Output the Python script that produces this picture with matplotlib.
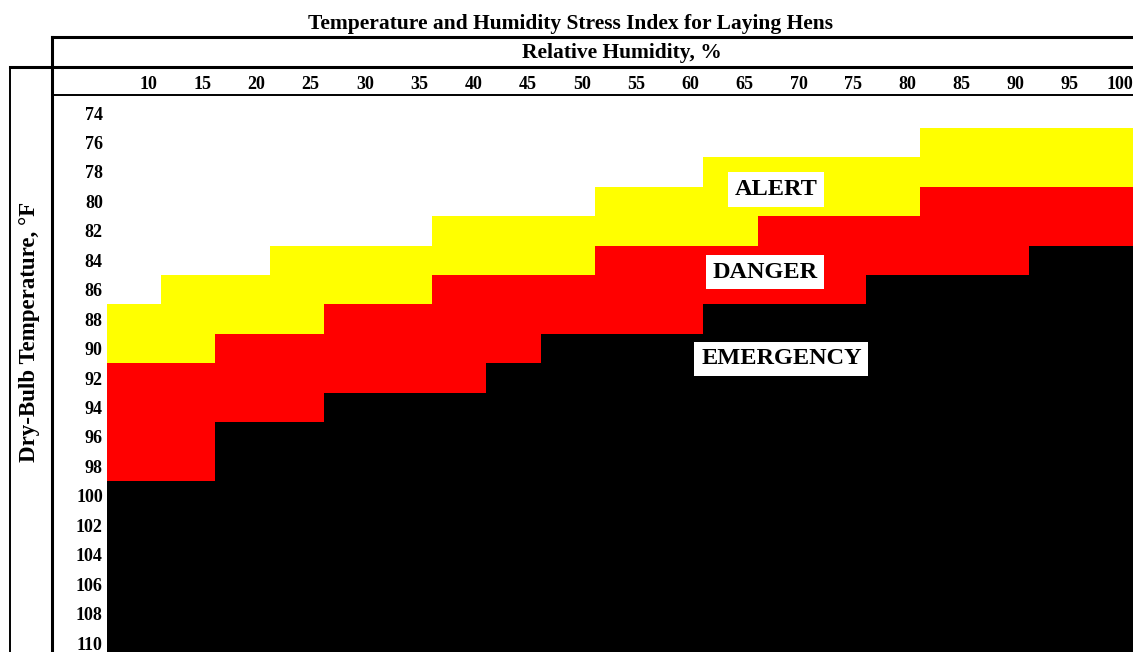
import matplotlib

matplotlib.use("Agg")
import matplotlib.pyplot as plt
from matplotlib.lines import Line2D
from matplotlib.transforms import ScaledTranslation
import numpy as np

# Relative humidity columns, %
humidity = [10, 15, 20, 25, 30, 35, 40, 45, 50, 55, 60, 65, 70, 75, 80, 85, 90, 95, 100]
# First dry-bulb temperature (°F) at which each stress zone begins, per column
alert_from = [88, 86, 86, 84, 84, 84, 82, 82, 82, 80, 80, 78, 78, 78, 78, 76, 76, 76, 76]
danger_from = [92, 92, 90, 90, 88, 88, 86, 86, 86, 84, 84, 84, 82, 82, 82, 80, 80, 80, 80]
emergency_from = [100, 100, 96, 96, 94, 94, 94, 92, 90, 90, 90, 88, 88, 88, 86, 86, 86, 84, 84]
# Dry-bulb temperature rows, °F
temps = list(range(74, 111, 2))

zone_names = ["ALERT", "DANGER", "EMERGENCY"]
zone_label_rh = [69.2, 68.2, 69.7]
zone_label_temp = [79.2, 84.8, 90.7]

W, H = 1133, 652
SERIF = "Liberation Serif"


def fx(px):
    return px / W


def fy(py):
    return 1 - py / H


fig = plt.figure(figsize=(W / 100, H / 100), dpi=100)
fig.patch.set_facecolor("white")

ax = fig.add_axes([fx(107), 0, (1137 - 107) / W, fy(98.3)])
rh = np.array(humidity)
a = np.array(alert_from)
d = np.array(danger_from)
e = np.array(emergency_from)
bottom_edge = temps[-1] + 1

ax.bar(rh, d - a, bottom=a - 1, width=5, color="#FFFF00", linewidth=0)
ax.bar(rh, e - d, bottom=d - 1, width=5, color="#FF0000", linewidth=0)
ax.bar(rh, bottom_edge - (e - 1), bottom=e - 1, width=5, color="black", linewidth=0)

ax.set_xlim(7.5, 102.5)
ax.set_ylim(110.6, 73)
for s in ax.spines.values():
    s.set_visible(False)

# column headings sit right-aligned near each column's right edge
ax.xaxis.tick_top()
ax.set_xticks(humidity)
ax.set_xticklabels([str(v) for v in humidity], fontfamily=SERIF,
                   fontweight="bold", fontsize=13, ha="right")
ax.tick_params(axis="x", length=0, pad=4)
shift = ScaledTranslation(23 / 100, 0, fig.dpi_scale_trans)
for lbl in ax.get_xticklabels():
    lbl.set_transform(lbl.get_transform() + shift)

ax.set_yticks(temps)
ax.set_yticklabels([str(t) for t in temps], fontfamily=SERIF,
                   fontweight="bold", fontsize=13)
ax.tick_params(axis="y", length=0, pad=3)

for name, x, y in zip(zone_names, zone_label_rh, zone_label_temp):
    ax.text(x, y, name, ha="center", va="center", fontfamily=SERIF,
            fontweight="bold", fontsize=17.5,
            bbox=dict(boxstyle="square,pad=0.28", facecolor="white", edgecolor="none"))

# table rules
rules = [
    ((52, 1133), (37, 37), 2.2),
    ((52, 52), (37, 652), 2.2),
    ((10, 1133), (66.5, 66.5), 2.2),
    ((10, 10), (66.5, 652), 1.4),
    ((52, 1133), (95, 95), 1.4),
]
for xs, ys, lw in rules:
    fig.add_artist(Line2D([fx(v) for v in xs], [fy(v) for v in ys],
                          color="black", linewidth=lw, transform=fig.transFigure))

fig.text(fx(571), fy(29), "Temperature and Humidity Stress Index for Laying Hens",
         ha="center", va="baseline", fontfamily=SERIF, fontweight="bold", fontsize=15.5)
fig.text(fx(622), fy(58), "Relative Humidity, %", ha="center", va="baseline",
         fontfamily=SERIF, fontweight="bold", fontsize=15.5)
fig.text(fx(30), fy(332), "Dry-Bulb Temperature, °F", ha="center", va="center",
         rotation=90, fontfamily=SERIF, fontweight="bold", fontsize=16.5)

fig.savefig("out.png", dpi=100)
